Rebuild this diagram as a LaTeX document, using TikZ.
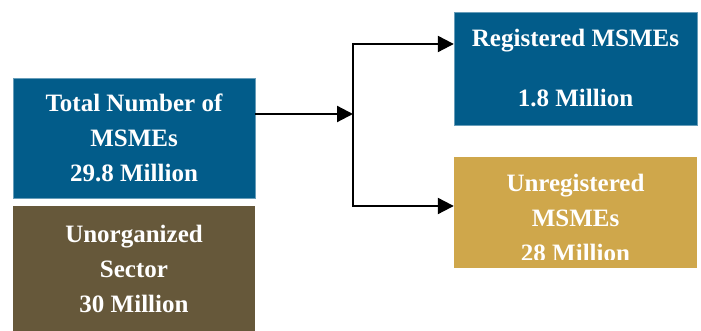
\documentclass[tikz,border=0pt]{standalone}
\usepackage{fontspec}
\setmainfont{Liberation Serif}
\usetikzlibrary{positioning,arrows.meta}

\begin{document}
\begin{tikzpicture}[
        x=1pt,y=1pt,
        node distance=8pt,
        box/.style={minimum width=242pt,inner sep=0pt,text=white,align=center,
            font=\bfseries\fontsize{25}{35}\selectfont},
        link/.style={line width=2.2pt,-{Triangle[length=16pt,width=16pt]}}
    ]
    \colorlet{msblue}{rgb,255:red,2;green,92;blue,138}
    \colorlet{msbrown}{rgb,255:red,102;green,88;blue,58}
    \colorlet{msgold}{rgb,255:red,207;green,167;blue,75}

    \useasboundingbox (0,0) rectangle (701,331);

    \node (total) [box,fill=msblue,draw=msblue!60!white,minimum height=120pt]
        at (134,193) {Total Number of\\MSMEs\\29.8 Million};
    \node (unorg) [box,fill=msbrown,minimum height=125pt,below=of total]
        {Unorganized\\Sector\\30 Million};

    \node (reg) [box,fill=msblue,draw=msblue!60!white,minimum width=243pt,minimum height=113pt]
        at (575.5,262.5) {Registered MSMEs\\[25pt]1.8 Million};
    \node (unreg) [box,fill=msgold,minimum width=243pt,minimum height=111pt,below=32pt of reg] {};
    \begin{scope}
        \clip ([yshift=9pt]unreg.south west) rectangle (unreg.north east);
        \node (unregtxt) [box] at ([yshift=-5.5pt]unreg.center)
            {Unregistered\\MSMEs\\28 Million};
    \end{scope}

    % branching connector
    \coordinate (split) at (353,217);
    \coordinate (jtop)  at (353,287);
    \coordinate (jbot)  at (353,125);
    \draw [link] (total.east |- split) -- (split);
    \draw [line width=2.2pt] ([yshift=1.1pt]jtop) -- ([yshift=-1.1pt]jbot);
    \draw [link] (jtop) -- (reg.west |- jtop);
    \draw [link] (jbot) -- (unreg.west |- jbot);
\end{tikzpicture}
\end{document}
